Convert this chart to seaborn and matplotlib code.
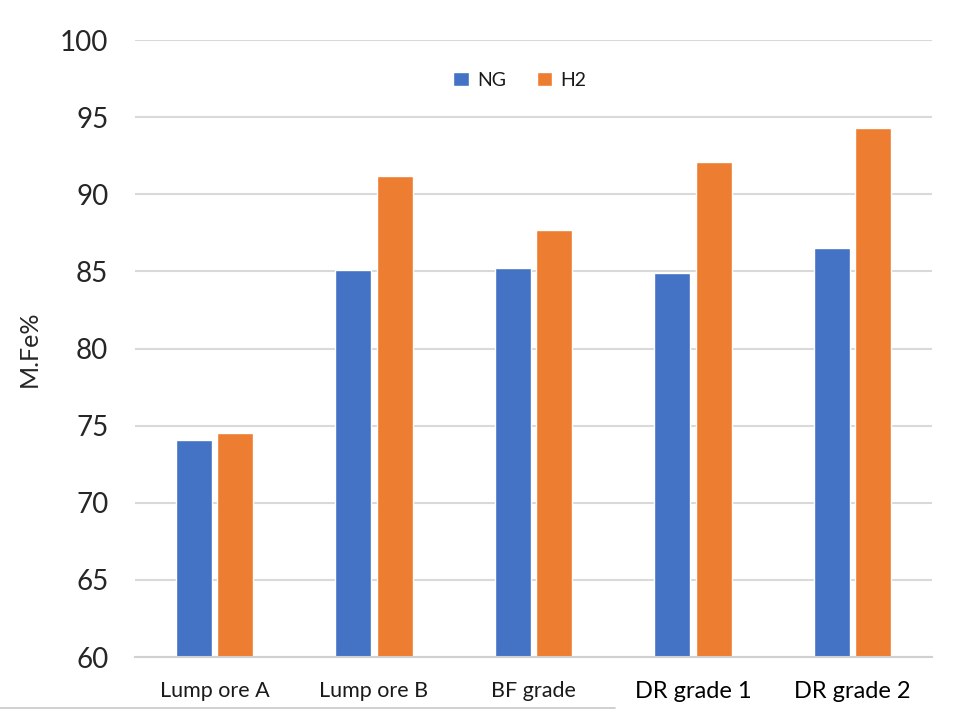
import matplotlib
matplotlib.use("Agg")
import matplotlib.pyplot as plt
import seaborn as sns
import pandas as pd
from matplotlib.lines import Line2D

categories = ["Lump ore A", "Lump ore B", "BF grade", "DR grade 1", "DR grade 2"]
ng_values = [74.1, 85.1, 85.2, 84.9, 86.5]
h2_values = [74.5, 91.2, 87.7, 92.1, 94.3]
series = ["NG", "H2"]
y_ticks = [60, 65, 70, 75, 80, 85, 90, 95, 100]

df = pd.DataFrame({
    "category": categories * 2,
    "gas": ["NG"] * len(categories) + ["H2"] * len(categories),
    "value": ng_values + h2_values,
})

sns.set_style("white")
plt.rcParams["font.family"] = ["Lato", "DejaVu Sans"]

fig = plt.figure(figsize=(9.55, 7.15), dpi=100)
ax = fig.add_axes([0.141, 0.081, 0.835, 0.863])

sns.barplot(data=df, x="category", y="value", hue="gas", hue_order=series,
            palette={"NG": "#4472C4", "H2": "#ED7D31"}, width=0.52, gap=0.13,
            ax=ax, errorbar=None, saturation=1)

ax.set_ylim(60, 100)
ax.set_yticks(y_ticks)
ax.set_xlim(-0.5, len(categories) - 0.5)
ax.yaxis.grid(True, color="#d9d9d9", linewidth=1.5)
ax.set_axisbelow(True)
for s in ["top", "right", "left"]:
    ax.spines[s].set_visible(False)
ax.spines["bottom"].set_color("#d0d0d0")
ax.spines["bottom"].set_linewidth(1.5)
ax.tick_params(axis="both", length=0)
ax.tick_params(axis="y", labelsize=20, pad=19, labelcolor="#262626")
ax.tick_params(axis="x", labelsize=15.5, pad=17, labelcolor="#1a1a1a")
for lbl in ax.get_xticklabels()[3:]:
    lbl.set_fontsize(17)
    lbl.set_color("#000000")
ax.set_xlabel("")
ax.set_ylabel("M.Fe%", fontsize=18, color="#262626", labelpad=14)

leg = ax.legend(loc="center", bbox_to_anchor=(0.483, 0.935), ncol=2, frameon=False,
                fontsize=14, handlelength=0.8, handleheight=0.8, handletextpad=0.4,
                columnspacing=1.6)
for t in leg.get_texts():
    t.set_color("#1a1a1a")

fig.add_artist(Line2D([0, 0.644], [0.01, 0.01], color="#c8c8c8", linewidth=1.2,
                      transform=fig.transFigure))

fig.savefig("out.png", dpi=100)
